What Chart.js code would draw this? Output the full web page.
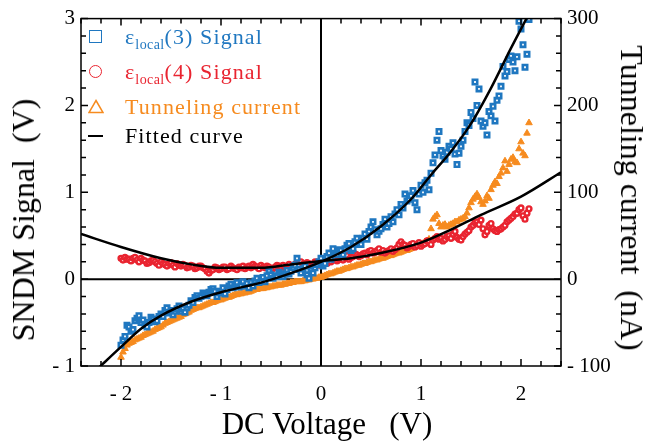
<!DOCTYPE html>
<html>
<head>
<meta charset="utf-8">
<script src="https://cdn.jsdelivr.net/npm/chart.js@4.4.1/dist/chart.umd.min.js"></script>
<style>
  body { margin: 0; background: #fff; }
  #wrap { position: relative; width: 655px; height: 445px; font-family: 'Liberation Serif', serif; }
  .legend { position: absolute; left: 0; top: 0; font-size: 22px; letter-spacing: 1.1px; }
  .row { position: absolute; left: 86px; height: 30px; display: flex; align-items: center; white-space: nowrap; }
  .sym { position: relative; width: 39px; height: 30px; flex: none; }
  .sym > * { position: absolute; }
  .sq { left: 3px; top: 8px; width: 11px; height: 11px; border: 1.6px solid #1f77c0; }
  .ci { left: 3px; top: 8px; width: 11px; height: 11px; border: 1.6px solid #e92430; border-radius: 50%; }
  .tr { left: 2px; top: 7px; }
  .ln { left: 2px; top: 14px; width: 15px; height: 1.6px; background: #000; }
  .txt sub { font-size: 14px; letter-spacing: 0.4px; vertical-align: -5px; line-height: 0; }
  .title { position: absolute; white-space: pre; color: #000; line-height: 1; }
</style>
</head>
<body>
<div id="wrap">
  <canvas id="chart"></canvas>
  <div class="legend">
    <div class="row" style="top:22px;color:#1f77c0"><span class="sym"><span class="sq"></span></span><span class="txt">ε<sub>local</sub>(3) Signal</span></div>
    <div class="row" style="top:57px;color:#e92430"><span class="sym"><span class="ci"></span></span><span class="txt">ε<sub>local</sub>(4) Signal</span></div>
    <div class="row" style="top:92px;color:#f68b1f"><span class="sym"><svg class="tr" width="16" height="15"><polygon points="8,1.5 15,13.5 1,13.5" fill="none" stroke="#f68b1f" stroke-width="1.5"/></svg></span><span class="txt">Tunneling current</span></div>
    <div class="row" style="top:121px;color:#000"><span class="sym"><span class="ln"></span></span><span class="txt">Fitted curve</span></div>
  </div>
  <div class="title" style="left:327px;top:423px;font-size:31px;transform:translate(-50%,-50%)">DC Voltage   (V)</div>
  <div class="title" style="left:23px;top:220px;font-size:32px;transform:translate(-50%,-50%) rotate(-90deg)">SNDM Signal  (V)</div>
  <div class="title" style="left:632px;top:198px;font-size:32px;transform:translate(-50%,-50%) rotate(90deg)">Tunneling current  (nA)</div>
</div>
<script>
const blue = '#1f77c0'
const red = '#e92430'
const orange = '#f68b1f'

// DC bias sweep (V), shared by the three measured series
const voltage = [
  -2.00, -1.98, -1.96, -1.94, -1.92, -1.90, -1.88, -1.86, -1.84, -1.82,
  -1.80, -1.78, -1.76, -1.74, -1.72, -1.70, -1.68, -1.66, -1.64, -1.62,
  -1.60, -1.58, -1.56, -1.54, -1.52, -1.50, -1.48, -1.46, -1.44, -1.42,
  -1.40, -1.38, -1.36, -1.34, -1.32, -1.30, -1.28, -1.26, -1.24, -1.22,
  -1.20, -1.18, -1.16, -1.14, -1.12, -1.10, -1.08, -1.06, -1.04, -1.02,
  -1.00, -0.98, -0.96, -0.94, -0.92, -0.90, -0.88, -0.86, -0.84, -0.82,
  -0.80, -0.78, -0.76, -0.74, -0.72, -0.70, -0.68, -0.66, -0.64, -0.62,
  -0.60, -0.58, -0.56, -0.54, -0.52, -0.50, -0.48, -0.46, -0.44, -0.42,
  -0.40, -0.38, -0.36, -0.34, -0.32, -0.30, -0.28, -0.26, -0.24, -0.22,
  -0.20, -0.18, -0.16, -0.14, -0.12, -0.10, -0.08, -0.06, -0.04, -0.02,
  0.00, 0.02, 0.04, 0.06, 0.08, 0.10, 0.12, 0.14, 0.16, 0.18,
  0.20, 0.22, 0.24, 0.26, 0.28, 0.30, 0.32, 0.34, 0.36, 0.38,
  0.40, 0.42, 0.44, 0.46, 0.48, 0.50, 0.52, 0.54, 0.56, 0.58,
  0.60, 0.62, 0.64, 0.66, 0.68, 0.70, 0.72, 0.74, 0.76, 0.78,
  0.80, 0.82, 0.84, 0.86, 0.88, 0.90, 0.92, 0.94, 0.96, 0.98,
  1.00, 1.02, 1.04, 1.06, 1.08, 1.10, 1.12, 1.14, 1.16, 1.18,
  1.20, 1.22, 1.24, 1.26, 1.28, 1.30, 1.32, 1.34, 1.36, 1.38,
  1.40, 1.42, 1.44, 1.46, 1.48, 1.50, 1.52, 1.54, 1.56, 1.58,
  1.60, 1.62, 1.64, 1.66, 1.68, 1.70, 1.72, 1.74, 1.76, 1.78,
  1.80, 1.82, 1.84, 1.86, 1.88, 1.90, 1.92, 1.94, 1.96, 1.98,
  2.00, 2.02, 2.04, 2.06, 2.08,
]

// eps_local(3) SNDM signal (V)
const local3Signal = [
  -0.76, -0.70, -0.66, -0.53, -0.55, -0.60, -0.58, -0.48, -0.45, -0.42,
  -0.50, -0.47, -0.53, -0.55, -0.50, -0.44, -0.46, -0.49, -0.48, -0.43,
  -0.40, -0.43, -0.36, -0.33, -0.39, -0.36, -0.41, -0.37, -0.34, -0.31,
  -0.37, -0.34, -0.38, -0.33, -0.30, -0.25, -0.27, -0.21, -0.19, -0.22,
  -0.20, -0.16, -0.17, -0.19, -0.15, -0.12, -0.11, -0.14, -0.20, -0.16,
  -0.14, -0.10, -0.17, -0.12, -0.08, -0.06, -0.10, -0.07, -0.04, -0.09,
  -0.08, -0.03, -0.08, -0.05, -0.10, -0.04, -0.08, -0.02, 0.01, -0.04,
  -0.02, 0.02, -0.03, 0.04, 0.09, 0.05, 0.01, 0.04, 0.03, 0.08,
  0.06, 0.03, 0.06, 0.10, 0.06, 0.09, 0.13, 0.16, 0.24, 0.11,
  0.07, 0.12, 0.15, 0.05, 0.01, 0.10, 0.07, 0.13, 0.17, 0.20,
  0.24, 0.15, 0.18, 0.26, 0.30, 0.23, 0.35, 0.29, 0.28, 0.34,
  0.33, 0.28, 0.35, 0.39, 0.41, 0.33, 0.35, 0.43, 0.47, 0.40,
  0.40, 0.47, 0.52, 0.46, 0.55, 0.60, 0.66, 0.57, 0.51, 0.55,
  0.58, 0.63, 0.69, 0.60, 0.64, 0.72, 0.66, 0.75, 0.80, 0.74,
  0.86, 0.82, 0.98, 0.90, 0.92, 0.96, 1.02, 0.88, 0.80, 0.98,
  1.08, 1.00, 1.11, 1.14, 1.03, 1.22, 1.34, 1.43, 1.60, 1.70,
  1.48, 1.42, 1.38, 1.46, 1.53, 1.50, 1.57, 1.44, 1.32, 1.45,
  1.53, 1.60, 1.70, 1.80, 1.77, 1.92, 1.85, 2.27, 2.00, 2.19,
  1.82, 1.76, 1.80, 1.66, 1.93, 1.88, 1.99, 1.82, 2.06, 2.11,
  2.22, 2.45, 2.34, 2.39, 2.53, 2.57, 2.50, 2.40, 2.56, 2.97,
  2.88, 2.70, 2.44, 2.59, 2.99,
]

// eps_local(4) SNDM signal (V)
const local4Signal = [
  0.24, 0.22, 0.25, 0.23, 0.23, 0.21, 0.24, 0.25, 0.22, 0.20,
  0.24, 0.22, 0.21, 0.18, 0.19, 0.21, 0.22, 0.20, 0.18, 0.16,
  0.20, 0.18, 0.17, 0.15, 0.18, 0.19, 0.16, 0.14, 0.18, 0.16,
  0.15, 0.17, 0.16, 0.13, 0.14, 0.16, 0.15, 0.12, 0.13, 0.15,
  0.15, 0.13, 0.12, 0.09, 0.07, 0.10, 0.11, 0.14, 0.13, 0.11,
  0.12, 0.14, 0.14, 0.11, 0.12, 0.15, 0.13, 0.12, 0.11, 0.14,
  0.13, 0.15, 0.12, 0.14, 0.15, 0.13, 0.17, 0.15, 0.14, 0.12,
  0.16, 0.14, 0.13, 0.15, 0.14, 0.12, 0.12, 0.14, 0.16, 0.15,
  0.14, 0.16, 0.13, 0.15, 0.17, 0.14, 0.15, 0.17, 0.18, 0.16,
  0.20, 0.17, 0.16, 0.19, 0.18, 0.15, 0.17, 0.20, 0.19, 0.16,
  0.17, 0.20, 0.19, 0.18, 0.22, 0.20, 0.23, 0.24, 0.21, 0.23,
  0.24, 0.22, 0.25, 0.27, 0.23, 0.25, 0.26, 0.29, 0.28, 0.26,
  0.27, 0.29, 0.30, 0.28, 0.32, 0.33, 0.30, 0.31, 0.33, 0.35,
  0.31, 0.33, 0.30, 0.32, 0.33, 0.35, 0.32, 0.34, 0.36, 0.40,
  0.43, 0.40, 0.39, 0.36, 0.38, 0.40, 0.41, 0.37, 0.39, 0.42,
  0.38, 0.40, 0.41, 0.44, 0.43, 0.40, 0.45, 0.47, 0.49, 0.46,
  0.47, 0.44, 0.46, 0.49, 0.50, 0.47, 0.52, 0.55, 0.48, 0.46,
  0.45, 0.49, 0.52, 0.54, 0.56, 0.60, 0.62, 0.65, 0.66, 0.63,
  0.68, 0.58, 0.51, 0.55, 0.62, 0.64, 0.58, 0.56, 0.55, 0.57,
  0.58, 0.60, 0.62, 0.66, 0.68, 0.70, 0.72, 0.75, 0.76, 0.80,
  0.82, 0.73, 0.69, 0.76, 0.81,
]

// tunneling current (nA), right axis
const tunnelingCurrent = [
  -90, -84, -80, -76, -74, -73, -72, -70, -69, -68,
  -67, -65, -64, -63, -62, -61, -60, -58, -57, -56,
  -55, -53, -51, -50, -49, -48, -47, -46, -45, -44,
  -43, -41, -40, -39, -38, -36, -35, -34, -33, -33,
  -32, -31, -30, -29, -28, -27, -27, -26, -25, -24,
  -24, -23, -22, -21, -21, -20, -19, -18, -18, -17,
  -17, -16, -16, -15, -15, -14, -13, -12, -12, -11,
  -11, -11, -10, -10, -9, -9, -8, -8, -7, -7,
  -7, -6, -6, -5, -5, -4, -4, -3, -3, -3,
  -3, -2, -2, -1, -1, 0, 0, 1, 1, 2,
  2, 3, 4, 5, 6, 6, 7, 8, 9, 9,
  10, 11, 12, 12, 13, 14, 14, 15, 16, 16,
  17, 18, 18, 19, 20, 20, 21, 22, 22, 23,
  24, 24, 25, 26, 27, 27, 28, 29, 30, 30,
  31, 32, 33, 33, 34, 35, 36, 37, 38, 39,
  40, 41, 43, 44, 46, 58, 69, 72, 74, 64,
  60, 62, 63, 60, 62, 63, 64, 66, 66, 68,
  69, 70, 72, 76, 82, 88, 92, 95, 98, 94,
  89, 86, 90, 96, 93, 103, 108, 112, 110, 118,
  122, 128, 136, 124, 132, 138, 140, 135, 134, 150,
  158, 145, 142, 168, 180,
]

// fitted curves
const fit3Voltage = [-2.25, -2.0, -1.8, -1.6, -1.3, -1.0, -0.6, -0.3, 0, 0.3, 0.6, 0.9, 1.1, 1.3, 1.5, 1.7, 1.9, 2.1]
const fit3Signal = [-1.05, -0.78, -0.57, -0.42, -0.26, -0.15, -0.04, 0.07, 0.20, 0.37, 0.61, 0.92, 1.20, 1.47, 1.79, 2.20, 2.66, 3.10]
const fit4Voltage = [-2.4, -2.0, -1.6, -1.3, -1.0, -0.6, -0.3, 0, 0.3, 0.6, 1.0, 1.3, 1.6, 2.0, 2.4]
const fit4Signal = [0.52, 0.37, 0.24, 0.17, 0.13, 0.13, 0.17, 0.21, 0.24, 0.30, 0.42, 0.57, 0.74, 0.95, 1.23]

const xTicks = [-2, -1, 0, 1, 2]
const yTicks = [-1, 0, 1, 2, 3]
const y2Ticks = [-100, 0, 100, 200, 300]

const toPoints = (xs, ys) => xs.map((x, i) => ({ x, y: ys[i] }))
const signed = v => (v < 0 ? '- ' + Math.abs(v) : String(v))

// closed frame, zero lines and inward ticks every 0.2
const frameAndTicks = {
  id: 'frameAndTicks',
  beforeDatasetsDraw(chart) {
    const { ctx, chartArea: a, scales: { x, y } } = chart
    const x0 = x.getPixelForValue(0)
    const y0 = y.getPixelForValue(0)
    ctx.save()
    ctx.strokeStyle = '#000'
    ctx.lineWidth = 2
    ctx.beginPath()
    ctx.moveTo(x0, a.top); ctx.lineTo(x0, a.bottom)
    ctx.moveTo(a.left, y0); ctx.lineTo(a.right, y0)
    ctx.stroke()
    ctx.restore()
  },
  afterDatasetsDraw(chart) {
    const { ctx, chartArea: a, scales: { x, y, y2 } } = chart
    ctx.save()
    ctx.strokeStyle = '#000'
    ctx.lineWidth = 1.5
    ctx.strokeRect(a.left, a.top, a.right - a.left, a.bottom - a.top)
    ctx.beginPath()
    for (let k = -12; k <= 12; k++) {
      const px = x.getPixelForValue(k * 0.2)
      const len = k % 5 === 0 ? 7 : 5
      ctx.moveTo(px, a.bottom); ctx.lineTo(px, a.bottom - len)
      ctx.moveTo(px, a.top); ctx.lineTo(px, a.top + len)
    }
    for (let k = -5; k <= 15; k++) {
      const len = k % 5 === 0 ? 7 : 5
      const pl = y.getPixelForValue(k * 0.2)
      ctx.moveTo(a.left, pl); ctx.lineTo(a.left + len, pl)
      const pr = y2.getPixelForValue(k * 20)
      ctx.moveTo(a.right, pr); ctx.lineTo(a.right - len, pr)
    }
    ctx.stroke()
    ctx.restore()
  },
}

Chart.defaults.font.family = "'Liberation Serif', serif"
Chart.defaults.color = '#000'

const fixedTicks = values => scale => { scale.ticks = values.map(value => ({ value })) }
const hiddenGrid = { display: false, drawTicks: false }

new Chart(document.getElementById('chart'), {
  type: 'scatter',
  data: {
    datasets: [
      {
        type: 'line',
        data: toPoints(fit3Voltage, fit3Signal),
        borderColor: '#000', borderWidth: 2.5, pointRadius: 0,
        cubicInterpolationMode: 'monotone', yAxisID: 'y', order: 0,
      },
      {
        type: 'line',
        data: toPoints(fit4Voltage, fit4Signal),
        borderColor: '#000', borderWidth: 2.5, pointRadius: 0,
        cubicInterpolationMode: 'monotone', yAxisID: 'y', order: 0,
      },
      {
        data: toPoints(voltage, local3Signal),
        pointStyle: 'rect', pointRadius: 3.1, borderWidth: 2.6,
        borderColor: blue, backgroundColor: '#fff', yAxisID: 'y', order: 1,
      },
      {
        data: toPoints(voltage, local4Signal),
        pointStyle: 'circle', pointRadius: 2.4, borderWidth: 2.4,
        borderColor: red, backgroundColor: '#fff', yAxisID: 'y', order: 2,
      },
      {
        data: toPoints(voltage, tunnelingCurrent),
        pointStyle: 'triangle', pointRadius: 3.8, borderWidth: 1,
        borderColor: orange, backgroundColor: orange, yAxisID: 'y2', order: 3,
      },
    ]
  },
  options: {
    responsive: true,
    maintainAspectRatio: false,
    animation: false,
    layout: { padding: { top: 14, left: 0, right: 0, bottom: 0 } },
    plugins: {
      legend: { display: false },
      tooltip: { enabled: false },
    },
    scales: {
      x: {
        type: 'linear', position: 'bottom', min: -2.4, max: 2.4,
        grid: hiddenGrid, border: { display: false },
        afterBuildTicks: fixedTicks(xTicks),
        afterFit: scale => { scale.height = 79 },
        ticks: { font: { size: 21 }, padding: 16, callback: signed },
      },
      y: {
        type: 'linear', position: 'left', min: -1, max: 3,
        grid: hiddenGrid, border: { display: false },
        afterBuildTicks: fixedTicks(yTicks),
        afterFit: scale => { scale.width = 81 },
        ticks: { font: { size: 21 }, padding: 6, callback: signed },
      },
      y2: {
        type: 'linear', position: 'right', min: -100, max: 300,
        grid: hiddenGrid, border: { display: false },
        afterBuildTicks: fixedTicks(y2Ticks),
        afterFit: scale => { scale.width = 94 },
        ticks: { font: { size: 21 }, padding: 6, callback: signed },
      },
    },
  },
  plugins: [frameAndTicks],
})
</script>
</body>
</html>
